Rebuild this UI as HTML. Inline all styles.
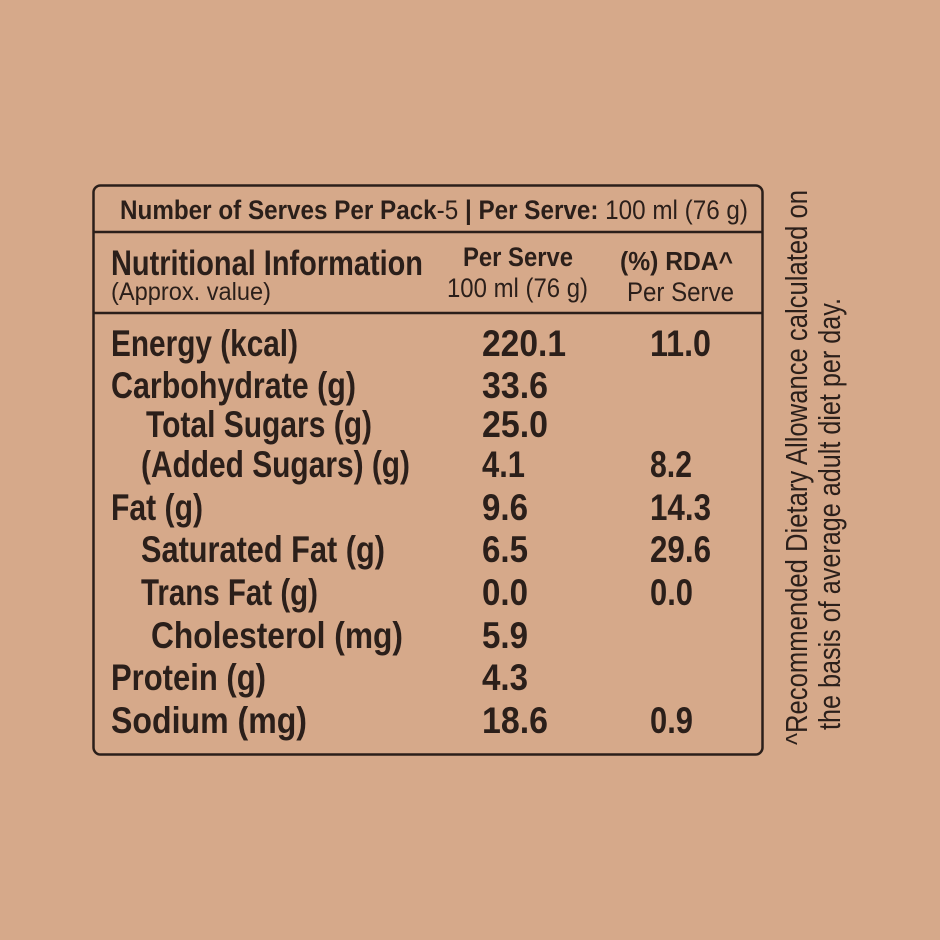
<!DOCTYPE html>
<html><head><meta charset="utf-8"><style>
html,body{margin:0;padding:0;background:#d6a98a;}
svg{display:block}
text{font-family:"Liberation Sans Narrow","Liberation Sans",sans-serif;fill:#2b1f1a;}
.b{font-weight:bold}
</style></head><body>
<svg width="940" height="940" viewBox="0 0 940 940" xmlns="http://www.w3.org/2000/svg">
<rect x="0" y="0" width="940" height="940" fill="#d6a98a"/>
<rect x="93.5" y="185.5" width="669" height="569" rx="7" fill="none" stroke="#2b1f1a" stroke-width="2.5"/>
<line x1="93" y1="232" x2="763" y2="232" stroke="#2b1f1a" stroke-width="2.5"/>
<line x1="93" y1="313" x2="763" y2="313" stroke="#2b1f1a" stroke-width="2.5"/>
<text x="120" y="219" font-size="27" textLength="628" lengthAdjust="spacingAndGlyphs"><tspan class="b">Number of Serves Per Pack</tspan>-5 <tspan class="b">| Per Serve:</tspan> 100 ml (76 g)</text>
<text class="b" x="111" y="275" font-size="35" textLength="312" lengthAdjust="spacingAndGlyphs">Nutritional Information</text>
<text x="111" y="300" font-size="25" textLength="160" lengthAdjust="spacingAndGlyphs">(Approx. value)</text>
<text class="b" x="463" y="266" font-size="27" textLength="110" lengthAdjust="spacingAndGlyphs">Per Serve</text>
<text x="447" y="297" font-size="27" textLength="141" lengthAdjust="spacingAndGlyphs">100 ml (76 g)</text>
<text class="b" x="620" y="270" font-size="26" textLength="113" lengthAdjust="spacingAndGlyphs">(%) RDA^</text>
<text x="627" y="301" font-size="27" textLength="107" lengthAdjust="spacingAndGlyphs">Per Serve</text>
<g class="b" font-size="37" font-weight="bold">
<text x="111" y="356" textLength="187" lengthAdjust="spacingAndGlyphs">Energy (kcal)</text>
<text x="111" y="398" textLength="245" lengthAdjust="spacingAndGlyphs">Carbohydrate (g)</text>
<text x="146" y="437" textLength="226" lengthAdjust="spacingAndGlyphs">Total Sugars (g)</text>
<text x="141" y="477" textLength="269" lengthAdjust="spacingAndGlyphs">(Added Sugars) (g)</text>
<text x="111" y="520" textLength="92" lengthAdjust="spacingAndGlyphs">Fat (g)</text>
<text x="141" y="562" textLength="244" lengthAdjust="spacingAndGlyphs">Saturated Fat (g)</text>
<text x="141" y="605" textLength="177" lengthAdjust="spacingAndGlyphs">Trans Fat (g)</text>
<text x="151" y="648" textLength="252" lengthAdjust="spacingAndGlyphs">Cholesterol (mg)</text>
<text x="111" y="690" textLength="155" lengthAdjust="spacingAndGlyphs">Protein (g)</text>
<text x="111" y="733" textLength="196" lengthAdjust="spacingAndGlyphs">Sodium (mg)</text>
<text x="482" y="356" textLength="84" lengthAdjust="spacingAndGlyphs">220.1</text>
<text x="482" y="398" textLength="66" lengthAdjust="spacingAndGlyphs">33.6</text>
<text x="482" y="437" textLength="66" lengthAdjust="spacingAndGlyphs">25.0</text>
<text x="482" y="477" textLength="43" lengthAdjust="spacingAndGlyphs">4.1</text>
<text x="482" y="520" textLength="46" lengthAdjust="spacingAndGlyphs">9.6</text>
<text x="482" y="562" textLength="46" lengthAdjust="spacingAndGlyphs">6.5</text>
<text x="482" y="605" textLength="46" lengthAdjust="spacingAndGlyphs">0.0</text>
<text x="482" y="648" textLength="46" lengthAdjust="spacingAndGlyphs">5.9</text>
<text x="482" y="690" textLength="46" lengthAdjust="spacingAndGlyphs">4.3</text>
<text x="482" y="733" textLength="66" lengthAdjust="spacingAndGlyphs">18.6</text>
<text x="650" y="356" textLength="61" lengthAdjust="spacingAndGlyphs">11.0</text>
<text x="650" y="477" textLength="42" lengthAdjust="spacingAndGlyphs">8.2</text>
<text x="650" y="520" textLength="61" lengthAdjust="spacingAndGlyphs">14.3</text>
<text x="650" y="562" textLength="61" lengthAdjust="spacingAndGlyphs">29.6</text>
<text x="650" y="605" textLength="43" lengthAdjust="spacingAndGlyphs">0.0</text>
<text x="650" y="733" textLength="43" lengthAdjust="spacingAndGlyphs">0.9</text>
</g>
<text transform="translate(807,745) rotate(-90)" font-size="31" textLength="555" lengthAdjust="spacingAndGlyphs">^Recommended Dietary Allowance calculated on</text>
<text transform="translate(840,730) rotate(-90)" font-size="31" textLength="432" lengthAdjust="spacingAndGlyphs">the basis of average adult diet per day.</text>
</svg>
</body></html>
